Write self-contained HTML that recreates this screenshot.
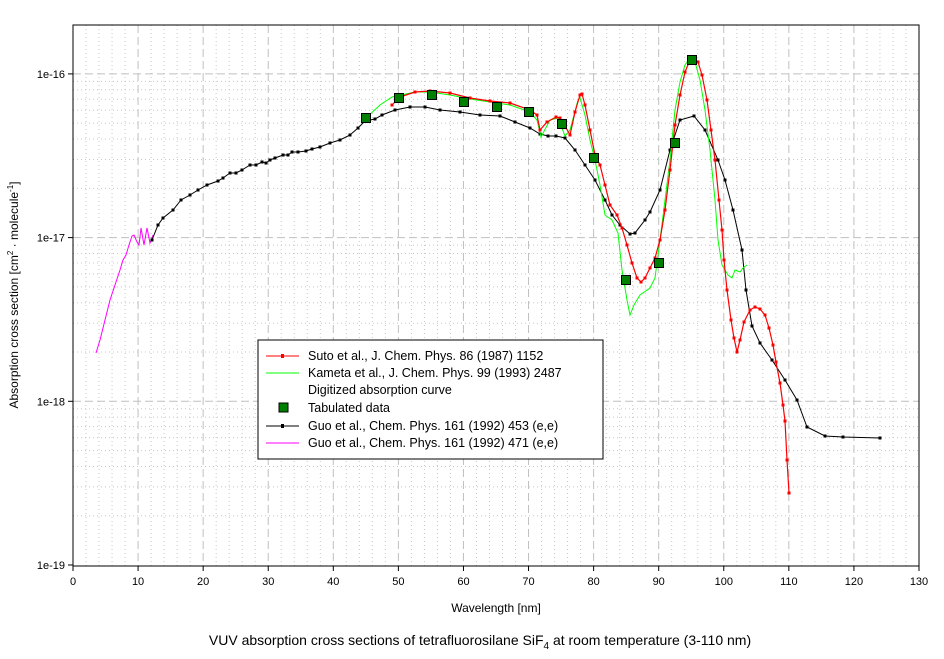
<!DOCTYPE html>
<html><head><meta charset="utf-8"><style>
body{margin:0;background:#fff;}
svg{display:block;font-family:"Liberation Sans",Arial,sans-serif;}
</style></head><body>
<svg id="s" width="944" height="659" xmlns="http://www.w3.org/2000/svg">
<g id="grid"></g>
<rect x="73" y="25" width="846" height="541" fill="none" stroke="#000" stroke-width="1"/>
<g id="ticks" font-size="11"></g>
<g id="data"></g>
<text x="496" y="612" font-size="12" text-anchor="middle">Wavelength [nm]</text>
<text transform="translate(18,295) rotate(-90)" font-size="12" text-anchor="middle">Absorption cross section [cm<tspan dy="-5" font-size="8">2</tspan><tspan dy="5"> · molecule</tspan><tspan dy="-5" font-size="8">-1</tspan><tspan dy="5">]</tspan></text>
<text x="480" y="645" font-size="14" text-anchor="middle">VUV absorption cross sections of tetrafluorosilane SiF<tspan dy="4" font-size="10">4</tspan><tspan dy="-4"> at room temperature (3-110 nm)</tspan></text>
<g id="legend">
<rect x="258" y="340" width="345" height="119" fill="#fff" stroke="#000"/>
<g font-size="12.5">
<line x1="266" y1="356" x2="299" y2="356" stroke="#f00"/><rect x="281" y="354" width="3" height="4" fill="#f00"/>
<text x="308" y="360">Suto et al., J. Chem. Phys. 86 (1987) 1152</text>
<line x1="266" y1="373" x2="299" y2="373" stroke="#0f0"/>
<text x="308" y="377">Kameta et al., J. Chem. Phys. 99 (1993) 2487</text>
<text x="308" y="394">Digitized absorption curve</text>
<rect x="279" y="403" width="9" height="9" fill="#008000" stroke="#000"/>
<text x="308" y="412">Tabulated data</text>
<line x1="266" y1="426" x2="299" y2="426" stroke="#000"/><rect x="281" y="424" width="3" height="4" fill="#000"/>
<text x="308" y="430">Guo et al., Chem. Phys. 161 (1992) 453 (e,e)</text>
<line x1="266" y1="443" x2="299" y2="443" stroke="#f0f"/>
<text x="308" y="447">Guo et al., Chem. Phys. 161 (1992) 471 (e,e)</text>
</g></g>
</svg>
<script>
var NS="http://www.w3.org/2000/svg";
function el(p,t,a,txt){var e=document.createElementNS(NS,t);for(var k in a)e.setAttribute(k,a[k]);if(txt!=null)e.textContent=txt;document.getElementById(p).appendChild(e);return e;}
var X0=73,SX=846/130;
function Y(d){return 565-(d+19)*163.7;}
// x grid
for(var v=2;v<130;v+=2){var x=X0+v*SX;var maj=v%10==0;
el("grid","line",{x1:x,x2:x,y1:25,y2:566,stroke:maj?"#c0c0c0":"#c8c8c8","stroke-width":1,"stroke-dasharray":maj?"8,4":"1,3"});}
for(var d=-19;d<=-16;d++){for(var m=1;m<10;m++){var y=565-((d+19)+Math.log10(m))*163.7;if(y<25)break;
var maj=m==1;if(d==-19&&m==1)continue;
el("grid","line",{x1:73,x2:919,y1:y,y2:y,stroke:maj?"#c0c0c0":"#c8c8c8","stroke-dasharray":maj?"8,4":"1,3"});}}
for(var v=0;v<=130;v+=10){var x=X0+v*SX;el("ticks","line",{x1:x,x2:x,y1:566,y2:571,stroke:"#000"});
el("ticks","text",{x:x,y:585,"text-anchor":"middle"},String(v));}
var lab=["1e-19","1e-18","1e-17","1e-16"];
for(var i=0;i<4;i++){var y=565-i*163.7;el("ticks","line",{x1:68,x2:73,y1:y,y2:y,stroke:"#000"});
el("ticks","text",{x:65,y:y+4,"text-anchor":"end"},lab[i]);}
function line(pts,col,w,mk,ms){var s=pts.map(function(p){return p.join(",")}).join(" ");
el("data","polyline",{points:s,fill:"none",stroke:col,"stroke-width":w});
if(mk)pts.forEach(function(p){el("data","rect",{x:p[0]-ms/2,y:p[1]-ms/2,width:ms,height:ms,fill:col});});}
var mag=[[96,353],[100,340],[105,320],[110,300],[115,285],[120,270],[123,260],[126,255],[129,245],[132,236],[134,235],[137,242],[139,245],[141,228],[144,245],[147,228],[150,243],[153,235]];
line(mag,"#f0f",1);
var blk=[[152,240],[158,225],[163,218],[173,210],[181,200],[190,195],[198,190],[207,185],[218,181],[223,178],[230,173],[236,173],[242,170],[250,165],[256,165],[262,162],[266,163],[270,160],[275,158],[283,155],[288,155],[292,152],[298,152],[306,151],[312,149],[320,147],[330,143],[340,140],[350,135],[358,128],[365,121],[375,119],[382,115],[395,110],[410,107],[425,107],[440,110],[460,112],[480,115],[500,116],[515,122],[530,128],[540,134],[548,136],[556,136],[565,138],[575,150],[585,165],[595,180],[605,200],[612,215],[620,225],[630,234],[635,233],[645,220],[650,212],[660,190],[670,150],[680,120],[694,116],[705,130],[718,160],[725,180],[733,210],[742,250],[746,290],[752,326],[760,343],[772,360],[785,380],[797,400],[807,427],[825,436],[843,437],[880,438]];
line(blk,"#000",1,true,3);
var grn=[[366,118],[380,105],[392,97],[415,92],[430,92],[450,95],[470,99],[490,102],[510,105],[530,112],[537,120],[541,137],[550,120],[558,118],[565,136],[570,130],[578,100],[580,98],[585,115],[590,140],[595,160],[600,185],[605,215],[612,220],[618,233],[622,270],[627,300],[630,315],[634,305],[640,295],[650,288],[655,278],[660,240],[665,200],[670,160],[675,110],[680,82],[685,65],[690,58],[695,62],[700,80],[705,110],[710,150],[715,200],[718,240],[722,265],[728,275],[732,278],[735,270],[740,272],[743,268],[747,265]];
line(grn,"#0f0",1);
var red=[[392,105],[400,97],[415,92],[430,91],[450,93],[470,98],[490,101],[510,103],[530,110],[537,115],[540,130],[547,122],[556,117],[560,118],[565,126],[570,135],[575,112],[580,95],[582,94],[585,105],[590,130],[595,155],[600,165],[605,185],[610,205],[617,215],[622,228],[627,245],[632,263],[637,278],[641,282],[645,278],[650,268],[655,258],[660,240],[665,210],[670,170],[675,125],[680,95],[685,72],[690,60],[694,57],[698,62],[702,75],[707,100],[711,130],[715,160],[719,200],[722,230],[724,260],[727,290],[731,320],[734,338],[737,352],[740,340],[744,322],[750,310],[755,307],[760,309],[765,315],[769,328],[773,345],[776,362],[780,383],[783,405],[785,421],[787,460],[789,493]];
line(red,"#f00",1.2,true,3);
var sq=[[366,118],[399,98],[432,95],[464,102],[497,107],[529,112],[562,124],[594,158],[626,280],[659,263],[675,143],[692,60]];
sq.forEach(function(p){el("data","rect",{x:p[0]-4.5,y:p[1]-4.5,width:9,height:9,fill:"#008000",stroke:"#000"});});
</script>
</body></html>
